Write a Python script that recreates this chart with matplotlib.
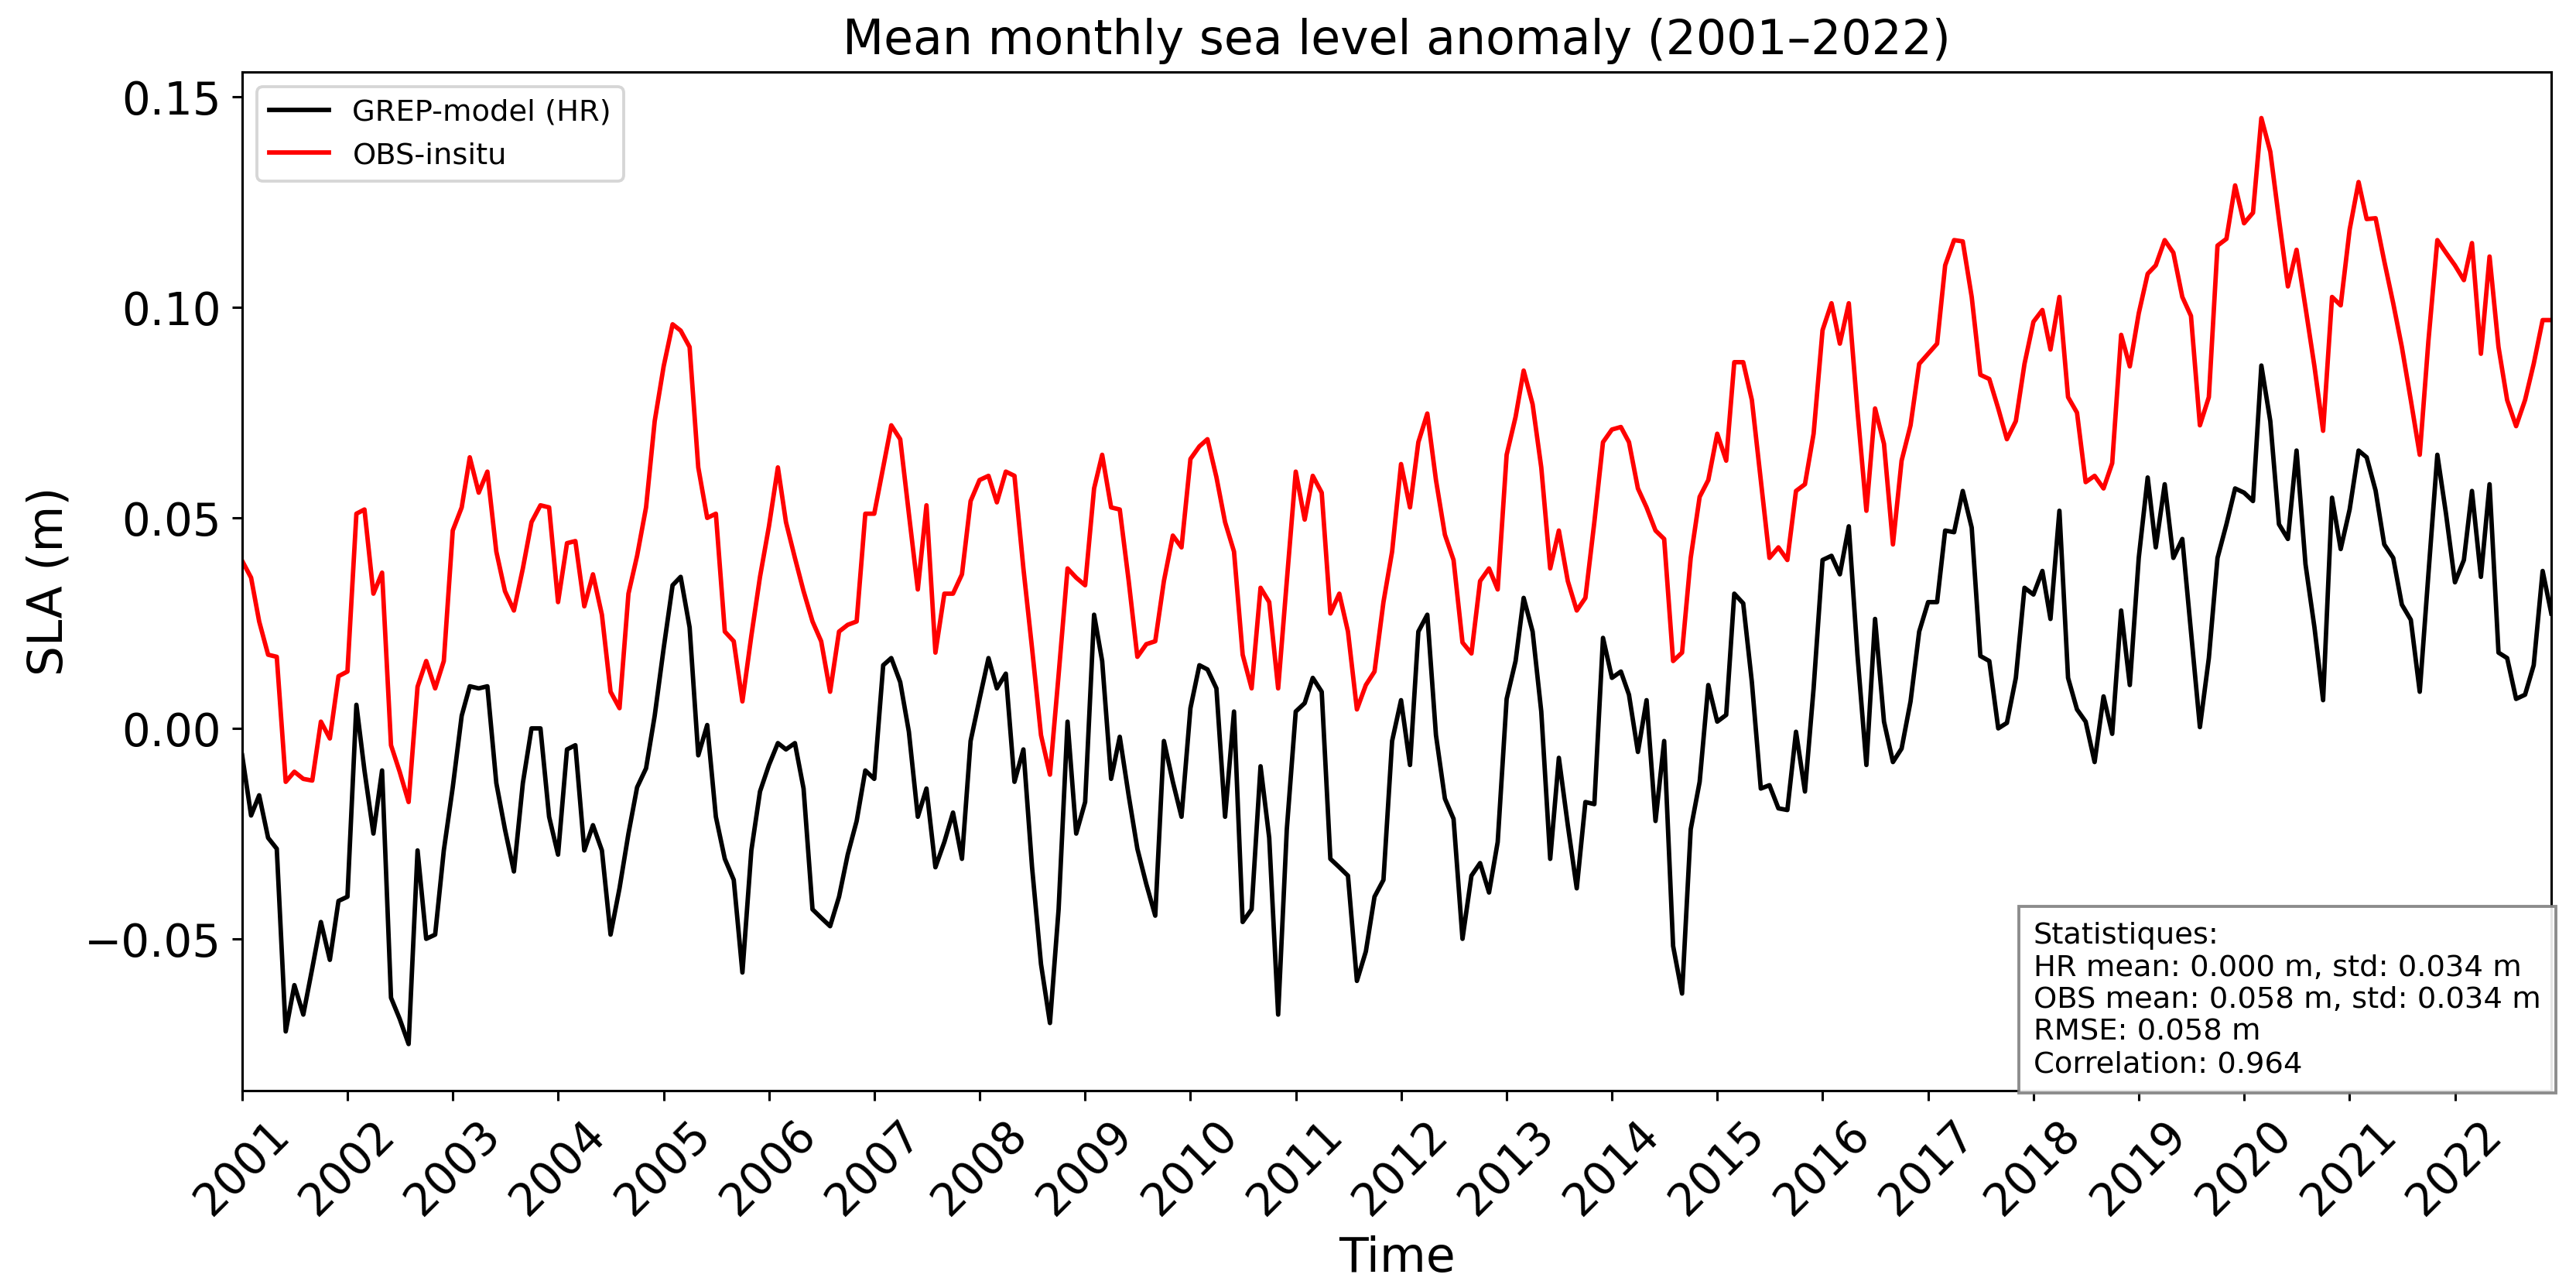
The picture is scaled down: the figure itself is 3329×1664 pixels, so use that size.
import matplotlib
matplotlib.use("Agg")
import matplotlib.pyplot as plt
import matplotlib.dates as mdates
import pandas as pd
import numpy as np

dates = pd.date_range("2001-01-01", periods=264, freq="MS")

hr_sla = [
    # 2001
    -0.0064, -0.0207, -0.0159, -0.026, -0.0286, -0.072, -0.061, -0.068, -0.057, -0.046, -0.055, -0.041,
    # 2002
    -0.040, 0.0056, -0.010, -0.025, -0.010, -0.064, -0.069, -0.075, -0.029, -0.050, -0.049, -0.029,
    # 2003
    -0.014, 0.003, 0.010, 0.0095, 0.010, -0.013, -0.024, -0.034, -0.013, 0.000, 0.000, -0.021,
    # 2004
    -0.030, -0.005, -0.004, -0.029, -0.023, -0.029, -0.049, -0.038, -0.025, -0.014, -0.0095, 0.003,
    # 2005
    0.019, 0.034, 0.036, 0.024, -0.0064, 0.0008, -0.021, -0.031, -0.036, -0.058, -0.029, -0.015,
    # 2006
    -0.0087, -0.0035, -0.005, -0.0035, -0.0143, -0.043, -0.045, -0.047, -0.040, -0.030, -0.022, -0.010,
    # 2007
    -0.012, 0.015, 0.0167, 0.011, -0.0008, -0.021, -0.0143, -0.033, -0.027, -0.020, -0.031, -0.003,
    # 2008
    0.007, 0.0167, 0.0095, 0.013, -0.0127, -0.005, -0.033, -0.056, -0.070, -0.043, 0.0016, -0.025,
    # 2009
    -0.0175, 0.027, 0.016, -0.012, -0.002, -0.016, -0.0286, -0.037, -0.0445, -0.003, -0.0127, -0.021,
    # 2010
    0.0048, 0.015, 0.014, 0.0095, -0.021, 0.004, -0.046, -0.043, -0.009, -0.026, -0.068, -0.024,
    # 2011
    0.004, 0.006, 0.012, 0.0087, -0.031, -0.033, -0.035, -0.060, -0.053, -0.040, -0.036, -0.003,
    # 2012
    0.0067, -0.0087, 0.023, 0.027, -0.0016, -0.0167, -0.0215, -0.050, -0.035, -0.032, -0.039, -0.027,
    # 2013
    0.007, 0.016, 0.031, 0.023, 0.004, -0.031, -0.007, -0.023, -0.038, -0.0175, -0.018, 0.0215,
    # 2014
    0.012, 0.0135, 0.008, -0.0056, 0.0067, -0.022, -0.003, -0.0517, -0.063, -0.024, -0.0127, 0.0103,
    # 2015
    0.0016, 0.0032, 0.032, 0.0297, 0.011, -0.0143, -0.0135, -0.019, -0.0194, -0.0008, -0.015, 0.0095,
    # 2016
    0.040, 0.041, 0.0366, 0.048, 0.0175, -0.0087, 0.026, 0.0016, -0.008, -0.0048, 0.0064, 0.023,
    # 2017
    0.030, 0.030, 0.047, 0.0466, 0.0564, 0.0477, 0.0172, 0.016, 0.000, 0.0013, 0.012, 0.0334,
    # 2018
    0.0318, 0.0374, 0.026, 0.0517, 0.012, 0.0045, 0.0016, -0.008, 0.0076, -0.0013, 0.028, 0.0103,
    # 2019
    0.0405, 0.0596, 0.043, 0.058, 0.0405, 0.045, 0.023, 0.0003, 0.0167, 0.0405, 0.0485, 0.057,
    # 2020
    0.056, 0.054, 0.0862, 0.073, 0.0485, 0.045, 0.066, 0.039, 0.024, 0.0067, 0.0548, 0.0426,
    # 2021
    0.052, 0.066, 0.0644, 0.0565, 0.0437, 0.0405, 0.0294, 0.0258, 0.0087, 0.0366, 0.065, 0.051,
    # 2022
    0.0347, 0.040, 0.0564, 0.036, 0.058, 0.018, 0.0167, 0.007, 0.008, 0.015, 0.0374, 0.0273,
]

obs_sla = [
    # 2001
    0.0398, 0.0358, 0.0254, 0.0175, 0.017, -0.0127, -0.0103, -0.012, -0.0124, 0.0016, -0.0024, 0.0124,
    # 2002
    0.0135, 0.051, 0.052, 0.032, 0.037, -0.004, -0.0103, -0.0175, 0.0099, 0.016, 0.0095, 0.016,
    # 2003
    0.047, 0.0525, 0.0644, 0.056, 0.061, 0.042, 0.0326, 0.028, 0.038, 0.049, 0.053, 0.0525,
    # 2004
    0.030, 0.044, 0.0445, 0.029, 0.0366, 0.027, 0.0087, 0.0048, 0.032, 0.041, 0.0525, 0.073,
    # 2005
    0.086, 0.096, 0.0945, 0.0906, 0.062, 0.050, 0.051, 0.023, 0.0207, 0.0064, 0.022, 0.036,
    # 2006
    0.048, 0.062, 0.049, 0.0405, 0.0326, 0.0254, 0.0207, 0.0087, 0.023, 0.0246, 0.0254, 0.051,
    # 2007
    0.051, 0.062, 0.072, 0.0687, 0.051, 0.033, 0.053, 0.018, 0.032, 0.032, 0.0366, 0.054,
    # 2008
    0.059, 0.060, 0.0537, 0.061, 0.060, 0.038, 0.019, -0.0016, -0.011, 0.0127, 0.038, 0.0358,
    # 2009
    0.034, 0.057, 0.065, 0.0525, 0.052, 0.035, 0.017, 0.020, 0.0207, 0.035, 0.0458, 0.043,
    # 2010
    0.064, 0.067, 0.0687, 0.0597, 0.049, 0.042, 0.0175, 0.0095, 0.0334, 0.030, 0.0095, 0.035,
    # 2011
    0.061, 0.0496, 0.060, 0.056, 0.0273, 0.032, 0.023, 0.0045, 0.0103, 0.0135, 0.030, 0.042,
    # 2012
    0.0628, 0.0525, 0.068, 0.0748, 0.059, 0.046, 0.040, 0.0204, 0.0178, 0.035, 0.038, 0.033,
    # 2013
    0.065, 0.074, 0.085, 0.077, 0.062, 0.038, 0.047, 0.035, 0.028, 0.031, 0.049, 0.068,
    # 2014
    0.071, 0.0716, 0.068, 0.057, 0.0525, 0.047, 0.045, 0.016, 0.018, 0.0405, 0.055, 0.059,
    # 2015
    0.070, 0.0636, 0.087, 0.087, 0.078, 0.059, 0.0405, 0.043, 0.040, 0.0564, 0.058, 0.070,
    # 2016
    0.0946, 0.101, 0.0914, 0.101, 0.0755, 0.0517, 0.076, 0.0676, 0.0437, 0.0636, 0.072, 0.0866,
    # 2017
    0.089, 0.0914, 0.110, 0.116, 0.1157, 0.1025, 0.084, 0.083, 0.076, 0.0687, 0.073, 0.0866,
    # 2018
    0.0966, 0.0994, 0.090, 0.1025, 0.0787, 0.075, 0.0585, 0.060, 0.057, 0.063, 0.0935, 0.086,
    # 2019
    0.0986, 0.108, 0.110, 0.116, 0.113, 0.1025, 0.098, 0.072, 0.0787, 0.1147, 0.1163, 0.129,
    # 2020
    0.120, 0.1225, 0.145, 0.137, 0.121, 0.105, 0.1137, 0.100, 0.086, 0.0707, 0.1025, 0.1005,
    # 2021
    0.1185, 0.1298, 0.121, 0.1212, 0.111, 0.101, 0.0906, 0.078, 0.065, 0.092, 0.116, 0.113,
    # 2022
    0.110, 0.1065, 0.1153, 0.089, 0.1121, 0.0906, 0.078, 0.0718, 0.078, 0.0866, 0.097, 0.097,
]

stats_lines = [
    "Statistiques:",
    "HR mean: 0.000 m, std: 0.034 m",
    "OBS mean: 0.058 m, std: 0.034 m",
    "RMSE: 0.058 m",
    "Correlation: 0.964",
]

fig = plt.figure(figsize=(12, 6), dpi=277.42)
ax = fig.add_axes([0.094, 0.1534, 0.8964, 0.7906])

ax.plot(dates, hr_sla, color="black", lw=1.5, label="GREP-model (HR)")
ax.plot(dates, obs_sla, color="red", lw=1.5, label="OBS-insitu")

ax.set_xlim(dates[0], dates[-1])
ax.xaxis.set_major_locator(mdates.YearLocator())
ax.xaxis.set_major_formatter(mdates.DateFormatter("%Y"))
ax.set_yticks([-0.05, 0.00, 0.05, 0.10, 0.15])
ax.yaxis.set_major_formatter(matplotlib.ticker.FuncFormatter(lambda v, p: f"{v:.2f}".replace("-", "\u2212")))
ax.tick_params(axis="both", labelsize=15)
plt.setp(ax.get_xticklabels(), rotation=45)

ax.set_title("Mean monthly sea level anomaly (2001\u20132022)", fontsize=16)
ax.set_xlabel("Time", fontsize=16)
ax.set_ylabel("SLA (m)", fontsize=16)

ax.legend(loc="upper left", fontsize=10)

ax.text(0.9955, 0.012, "\n".join(stats_lines), transform=ax.transAxes,
        ha="right", va="bottom", multialignment="left", fontsize=10,
        bbox=dict(boxstyle="square,pad=0.5", facecolor="white", edgecolor="gray", alpha=0.9))

fig.savefig("out.png", dpi=277.42)
